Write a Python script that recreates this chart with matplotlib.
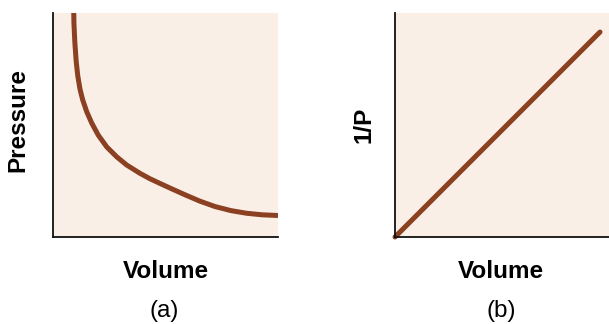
import matplotlib
matplotlib.use("Agg")
import matplotlib.pyplot as plt

plt.rcParams['font.family'] = ['Liberation Sans', 'DejaVu Sans']

# Panel (a): pressure vs volume
volume_a = [0.92, 0.93, 0.97, 1.03, 1.10, 1.20, 1.32, 1.50, 1.72, 2.01, 2.39, 2.83,
            3.28, 3.87, 4.31, 4.80, 5.30, 5.90, 6.53, 7.20, 7.90, 8.60, 9.30, 10.0]
pressure_a = [10.2, 9.55, 8.70, 7.85, 7.20, 6.60, 6.12, 5.59, 5.09, 4.55, 4.02, 3.58,
              3.21, 2.84, 2.60, 2.37, 2.14, 1.87, 1.60, 1.36, 1.18, 1.06, 0.99, 0.96]

# Panel (b): 1/P vs volume
volume_b = [0.0, 9.58]
inv_p_b = [0.0, 9.15]

xlabel = "Volume"
ylabel_a = "Pressure"
ylabel_b = "1/P"
captions = ["(a)", "(b)"]

W, H = 609, 324
fig = plt.figure(figsize=(W / 100, H / 100), dpi=100)

bg = "#f9efe7"
curve = "#8a4021"

def px_axes(x0, x1, ytop, ybot):
    return [x0 / W, (H - ybot) / H, (x1 - x0) / W, (ybot - ytop) / H]

ax1 = fig.add_axes(px_axes(53, 278, 13, 237))
ax2 = fig.add_axes(px_axes(395, 609, 13, 237))

for ax in (ax1, ax2):
    ax.set_facecolor(bg)
    ax.set_xlim(0, 10)
    ax.set_ylim(0, 10)
    ax.set_xticks([])
    ax.set_yticks([])
    for s in ("top", "right"):
        ax.spines[s].set_visible(False)
    for s in ("left", "bottom"):
        ax.spines[s].set_linewidth(1.3)
        ax.spines[s].set_color("#111111")

ax1.plot(volume_a, pressure_a, color=curve, lw=3.6, solid_capstyle="butt",
         solid_joinstyle="round")
ax2.plot(volume_b, inv_p_b, color=curve, lw=3.6, solid_capstyle="round", clip_on=False)

fs = 17.5
fig.text(166 / W, (H - 272) / H, xlabel, ha="center", va="center", fontsize=fs, fontweight="bold")
fig.text(501 / W, (H - 272) / H, xlabel, ha="center", va="center", fontsize=fs, fontweight="bold")
fig.text(164 / W, (H - 311) / H, captions[0], ha="center", va="center", fontsize=fs)
fig.text(501 / W, (H - 311) / H, captions[1], ha="center", va="center", fontsize=fs)
fig.text(18 / W, (H - 120) / H, ylabel_a, ha="center", va="center", rotation=90, fontsize=fs, fontweight="bold")
fig.text(364 / W, (H - 125) / H, ylabel_b, ha="center", va="center", rotation=90, fontsize=fs, fontweight="bold")

fig.savefig("out.png", dpi=100, facecolor="white")
